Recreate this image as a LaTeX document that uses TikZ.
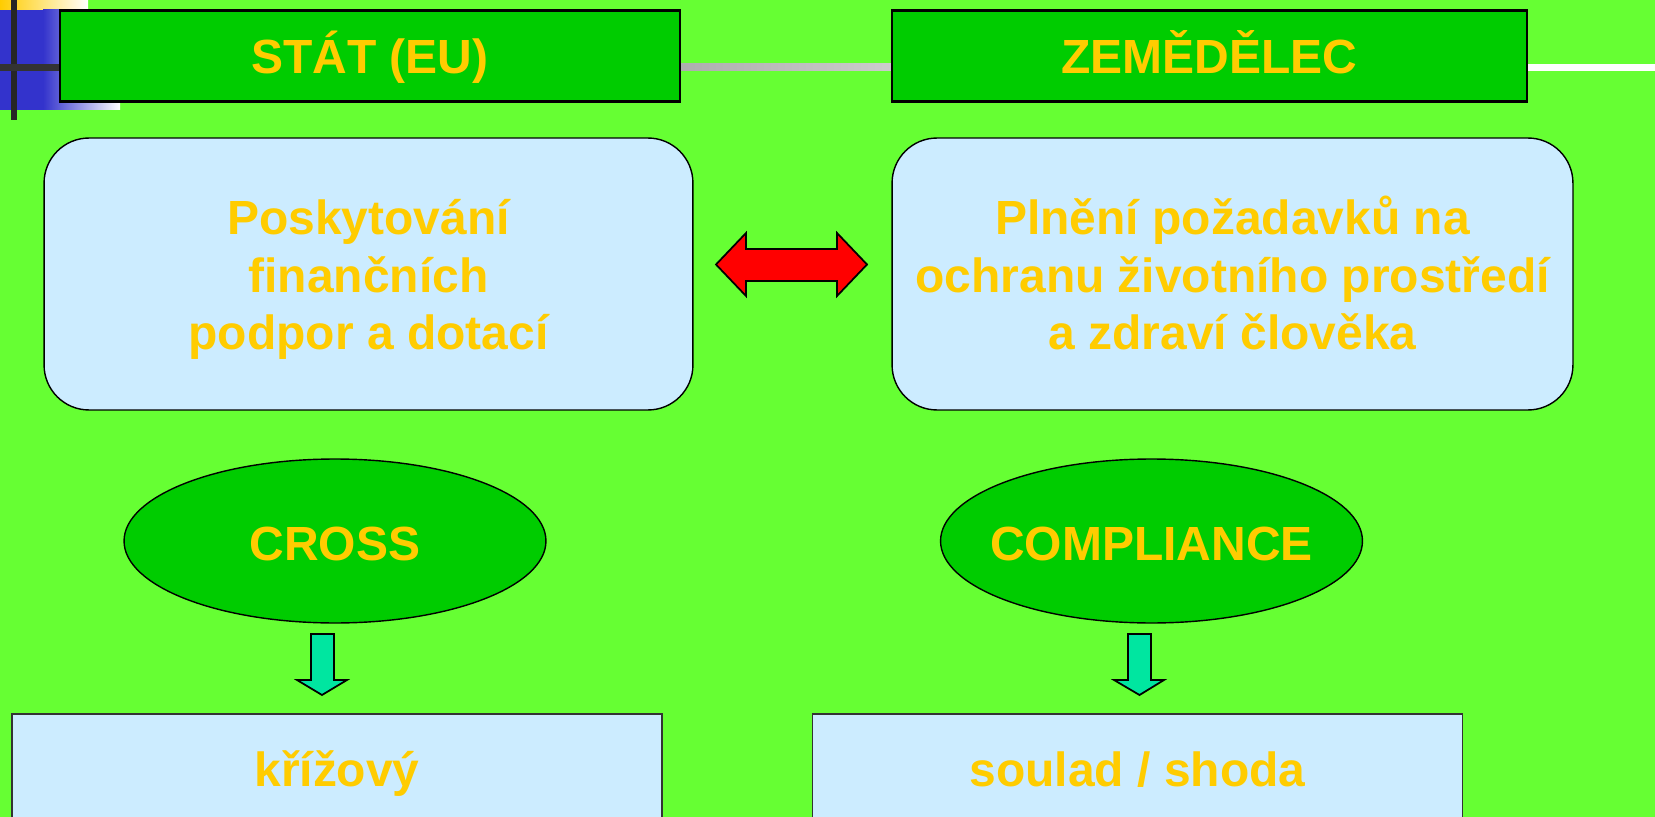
\documentclass[tikz,border=0pt]{standalone}
\usepackage{fontspec}
\setmainfont{Liberation Sans}
\usetikzlibrary{shapes.geometric}
\definecolor{slidegreen}{HTML}{66FF33}
\definecolor{headgreen}{HTML}{00CC00}
\definecolor{textyellow}{HTML}{FFCC00}
\definecolor{paleblue}{HTML}{CCECFF}
\definecolor{decoblue}{HTML}{3333CC}
\definecolor{arrowteal}{HTML}{00E6A0}
\begin{document}
\begin{tikzpicture}[x=0.02cm, y=-0.02cm,
  every node/.style={font=\fontsize{27.3}{33}\selectfont\bfseries, text=textyellow, align=center},
  headbox/.style={draw=black, line width=1.2pt, fill=headgreen, minimum height=1.82cm, text height=0.72cm, text depth=0pt},
  infobox/.style={draw=black, line width=0.8pt, fill=paleblue, rounded corners=0.9cm, minimum height=5.44cm, text height=3.04cm, text depth=0pt},
  oval/.style={ellipse, draw=black, line width=0.8pt, fill=headgreen, inner sep=0pt, minimum width=8.44cm, minimum height=3.28cm, text height=0.76cm, text depth=0pt},
  lowbox/.style={draw=black!80, line width=0.9pt, fill=paleblue, minimum width=13cm, minimum height=2.14cm, text height=0.76cm, text depth=0pt}]
\useasboundingbox (0,0) rectangle (1655,817);
\clip (0,0) rectangle (1655,817);
\fill[slidegreen] (0,0) rectangle (1655,817);

% Corner decoration
\shade[left color=textyellow, right color=white] (0,0) rectangle (88,10);
\fill[decoblue] (0,10) rectangle (43,110);
\shade[left color=decoblue, right color=white] (43,10) rectangle (120,110);
\fill[black!85] (11,0) rectangle (17,120);
\fill[black!80] (0,64) rectangle (60,71);

% Lines between the headers
\shade[left color=black!32, right color=black!20] (680,64) rectangle (892,71);
\fill[white] (1527,64) rectangle (1655,71);

% Headers
\node[headbox, minimum width=12.4cm] (stat) at (370,56) {STÁT (EU)};
\node[headbox, minimum width=12.7cm] (zemedelec) at (1209.5,56) {ZEMĚDĚLEC};

% Rounded boxes
\node[infobox, minimum width=12.98cm] (podpory) at (368.5,274) {Poskytování\\finančních\\podpor a dotací};
\node[infobox, minimum width=13.62cm] (pozadavky) at (1232.5,274) {Plnění požadavků na\\ochranu životního prostředí\\a zdraví člověka};

% Double arrow
\draw[fill=red, line width=1pt, line join=miter] (716,264.5) -- (746,233) -- (746,249) -- (837,249) -- (837,233)
  -- (867,264.5) -- (837,296) -- (837,281) -- (746,281) -- (746,296) -- cycle;

% Ovals
\node[oval] (cross) at (335,541) {\makebox[0pt]{CROSS}};
\node[oval] (compliance) at (1151.5,541) {\makebox[0pt]{COMPLIANCE}};

% Down arrows
\draw[fill=arrowteal, line width=1pt] (311,634) -- (334,634) -- (334,680) -- (347,680) -- (322,695)
  -- (297,680) -- (311,680) -- cycle;
\draw[fill=arrowteal, line width=1pt] (1128,634) -- (1151,634) -- (1151,680) -- (1164,680) -- (1139.5,695)
  -- (1114,680) -- (1128,680) -- cycle;

% Bottom boxes
\node[lowbox] (krizovy) at (337,767.5) {křížový};
\node[lowbox] (soulad) at (1137.5,767.5) {soulad / shoda};
\end{tikzpicture}
\end{document}
